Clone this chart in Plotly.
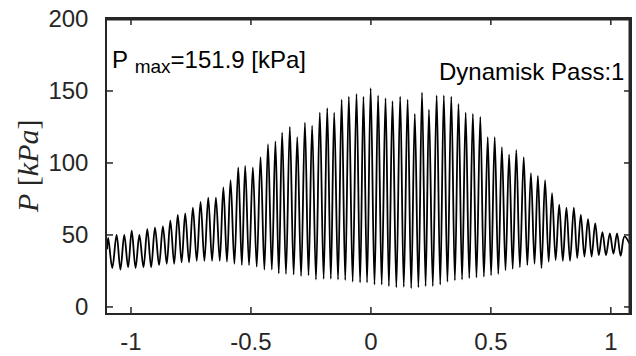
import plotly.graph_objects as go

# Peak (local maximum) positions and pressures
peak_x = [-1.095, -1.060, -1.028, -0.997, -0.965, -0.932, -0.900, -0.867, -0.836, -0.805,
          -0.774, -0.742, -0.710, -0.678, -0.646, -0.615, -0.585, -0.553, -0.524, -0.492,
          -0.460, -0.429, -0.398, -0.370, -0.338, -0.307, -0.275, -0.245, -0.213, -0.182,
          -0.153, -0.122, -0.092, -0.060, -0.031, -0.001, 0.030, 0.061, 0.090, 0.122,
          0.153, 0.183, 0.213, 0.242, 0.274, 0.304, 0.335, 0.365, 0.395, 0.425,
          0.456, 0.487, 0.516, 0.546, 0.576, 0.606, 0.637, 0.667, 0.696, 0.726,
          0.755, 0.785, 0.815, 0.846, 0.875, 0.905, 0.935, 0.965, 0.996, 1.026, 1.057]
peak_p = [48, 50, 50, 53, 50, 54, 55, 56, 60, 64,
          65, 69, 73, 76, 76, 83, 88, 97, 98, 97,
          104, 113, 115, 121, 125, 118, 128, 126, 135, 138,
          135, 144, 146, 148, 146, 151.9, 147, 145, 143, 146,
          144, 134, 149, 137, 147, 147, 146, 141, 135, 134,
          132, 118, 118, 111, 106, 109, 104, 93, 91, 88,
          79, 71, 69, 69, 64, 61, 58, 52, 51, 51, 49]

# Trough (local minimum) positions and pressures
trough_x = [-1.078, -1.044, -1.012, -0.981, -0.948, -0.916, -0.883, -0.851, -0.820, -0.789,
            -0.758, -0.726, -0.694, -0.662, -0.630, -0.600, -0.569, -0.538, -0.508, -0.476,
            -0.444, -0.413, -0.384, -0.354, -0.322, -0.291, -0.260, -0.229, -0.197, -0.167,
            -0.137, -0.107, -0.076, -0.045, -0.016, 0.015, 0.045, 0.075, 0.106, 0.137,
            0.168, 0.198, 0.228, 0.258, 0.289, 0.319, 0.350, 0.380, 0.410, 0.440,
            0.471, 0.501, 0.531, 0.561, 0.591, 0.621, 0.652, 0.682, 0.711, 0.741,
            0.770, 0.800, 0.830, 0.860, 0.890, 0.920, 0.950, 0.980, 1.011, 1.041]
trough_p = [27, 26, 27.5, 27, 27.5, 27.5, 29, 30, 30, 31,
            31, 32, 32, 32, 32, 31.5, 30, 29, 29, 28,
            26, 26, 23.3, 23, 22.5, 21.5, 22, 19, 19.5, 19.5,
            19, 18.7, 17.5, 17, 17, 15.5, 15.5, 14.5, 13.6, 14,
            13, 13.6, 14.5, 14.5, 15.5, 17.5, 18.5, 19, 20, 20.5,
            21, 22, 23, 25.5, 26.5, 27.5, 29, 30, 27, 31.5,
            32.5, 32, 32, 34, 35, 35, 36, 36, 37, 35.5]

start_x, start_p = -1.100, 40
end_x, end_p = 1.078, 44

x_range = [-1.1, 1.08]
y_range = [-4.2, 200]
x_ticks = [-1, -0.5, 0, 0.5, 1]
x_tick_text = ["-1", "-0.5", "0", "0.5", "1"]
y_ticks = [0, 50, 100, 150, 200]
y_tick_text = ["0", "50", "100", "150", "200"]

xs = [start_x]
ps = [start_p]
for i in range(len(peak_x)):
    xs.append(peak_x[i]); ps.append(peak_p[i])
    if i < len(trough_x):
        xs.append(trough_x[i]); ps.append(trough_p[i])
xs.append(end_x); ps.append(end_p)

axcol = "#262626"
font = dict(family="Liberation Sans, Arial, sans-serif", size=24, color=axcol)

plot_w, plot_h = 636 - 107 - 6, 356 - 19 - 43
tick_px = 6
tick_dx = tick_px * (x_range[1] - x_range[0]) / plot_w
tick_dy = tick_px * (y_range[1] - y_range[0]) / plot_h

# inward tick marks on all four sides, built from the tick value lists
tx, ty = [], []
for tv in x_ticks:
    tx += [tv, tv, None, tv, tv, None]
    ty += [y_range[0], y_range[0] + tick_dy, None, y_range[1], y_range[1] - tick_dy, None]
for tv in y_ticks:
    tx += [x_range[0], x_range[0] + tick_dx, None, x_range[1], x_range[1] - tick_dx, None]
    ty += [tv, tv, None, tv, tv, None]

fig = go.Figure()
fig.add_trace(go.Scatter(x=xs, y=ps, mode="lines",
                         line=dict(color="black", width=1.8, shape="spline", smoothing=1),
                         hoverinfo="skip", showlegend=False))
fig.add_trace(go.Scatter(x=tx, y=ty, mode="lines", connectgaps=False,
                         line=dict(color=axcol, width=1.5),
                         hoverinfo="skip", showlegend=False))
# top and right edges of the box (half of the 3 px line lies inside the plot area)
fig.add_trace(go.Scatter(x=[x_range[0], x_range[1], x_range[1]],
                         y=[y_range[1], y_range[1], y_range[0]], mode="lines",
                         line=dict(color=axcol, width=3),
                         hoverinfo="skip", showlegend=False))

fig.update_layout(
    xaxis=dict(range=x_range, tickvals=x_ticks, ticktext=x_tick_text,
               showgrid=False, zeroline=False, showline=True, mirror=True,
               linecolor=axcol, linewidth=1.5, ticks="outside", ticklen=6,
               tickcolor="rgba(0,0,0,0)", tickfont=font),
    yaxis=dict(range=y_range, tickvals=y_ticks, ticktext=y_tick_text,
               showgrid=False, zeroline=False, showline=True, mirror=True,
               linecolor=axcol, linewidth=1.5, ticks="outside", ticklen=12,
               tickcolor="rgba(0,0,0,0)", tickfont=font),
)

ann_font = dict(family="Liberation Sans, Arial, sans-serif", size=24, color="black")
fig.add_annotation(xref="paper", yref="paper", x=0.006, y=0.855, xanchor="left", yanchor="middle",
                   text="P&nbsp;<sub><span style='font-size:19px'>max</span></sub>=151.9 [kPa]",
                   showarrow=False, font=ann_font)
fig.add_annotation(xref="paper", yref="paper", x=0.992, y=0.82, xanchor="right", yanchor="middle",
                   text="Dynamisk Pass:1", showarrow=False, font=ann_font)
fig.add_annotation(xref="paper", yref="paper", x=-0.153, y=0.5, xanchor="center", yanchor="middle",
                   textangle=-90, text="<i>P</i> [<i>kPa</i>]", showarrow=False,
                   font=dict(family="Liberation Serif, DejaVu Serif, serif", size=30, color=axcol))

fig.update_layout(width=636, height=356, margin=dict(l=107, r=6, t=19, b=43, autoexpand=False),
                  paper_bgcolor="white", plot_bgcolor="white", showlegend=False)

fig.write_html("out.html", config={"displayModeBar": False},
               post_script="document.body.style.margin='0';document.body.style.padding='0';document.body.style.overflow='hidden';")
